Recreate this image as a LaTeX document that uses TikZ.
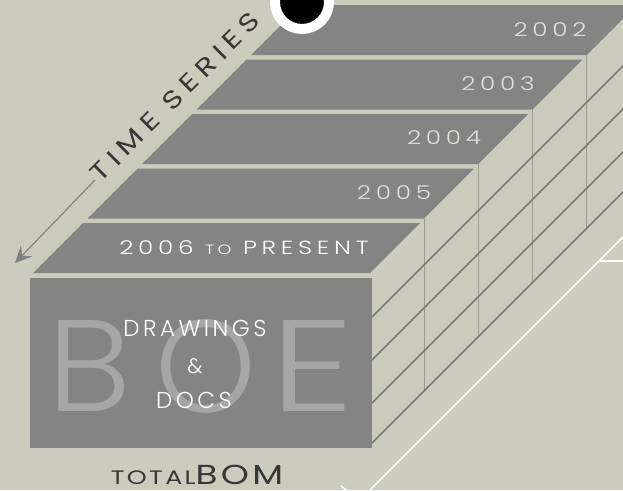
\documentclass[tikz,border=0pt]{standalone}
\usepackage{fontspec}
\usetikzlibrary{arrows.meta}
\IfFontExistsTF{Poppins Light}{\newcommand\coplname{Poppins Light}}{\newcommand\coplname{Poppins}}
\newfontfamily\fyear{\coplname}[FakeStretch=1.3,LetterSpace=25]
\newfontfamily\fdraw{\coplname}[LetterSpace=15]
\newfontfamily\fboe{\coplname}
\newfontfamily\ftime{Poppins}[FakeStretch=1.25,LetterSpace=25]
\newfontfamily\ftotal{Poppins}[FakeStretch=1.3,LetterSpace=12]
\definecolor{bg}{RGB}{204,204,189}
\definecolor{slab}{RGB}{131,132,131}
\definecolor{boe}{RGB}{166,167,165}
\definecolor{yeartxt}{RGB}{226,226,220}
\definecolor{vline}{RGB}{155,155,150}
\definecolor{dline}{RGB}{122,122,122}
\definecolor{darktxt}{RGB}{55,55,55}
\definecolor{arrcol}{RGB}{128,128,128}
\tikzset{
  slabfill/.style={fill=slab},
  yearlbl/.style={inner sep=0pt, anchor=base, text=yeartxt, font=\fyear\fontsize{19}{19}\selectfont},
  boelbl/.style={inner sep=0pt, anchor=base, text=boe, font=\fboe\fontsize{130}{130}\selectfont},
  thinv/.style={draw=vline, line width=0.8pt},
  shelf/.style={draw=dline, line width=1.5pt},
  whiteln/.style={draw=white, line width=1.5pt},
}
\begin{document}
\begin{tikzpicture}[x=1pt,y=-1pt]
\path[use as bounding box] (0,0) rectangle (623,490);
\clip (0,0) rectangle (623,490);
\fill[bg] (0,0) rectangle (623,490);
% slabs (top faces)
\foreach \i in {0,...,4}{
  \pgfmathsetmacro\yb{273-54.5*\i}
  \pgfmathsetmacro\xl{33+54.5*\i}
  \pgfmathsetmacro\xr{370+54.2*\i}
  \fill[slabfill] (\xl,\yb) -- (\xr,\yb) -- ({\xr+50},{\yb-50}) -- ({\xl+50},{\yb-50}) -- cycle;
}
% vertical edges on the side
\foreach \i in {1,...,4}{
  \pgfmathsetmacro\yb{273-54.5*\i}
  \pgfmathsetmacro\xr{370+54.2*\i}
  \draw[thinv] (\xr,\yb) -- (\xr,{815-\xr});
}
% diagonal shelf lines
\foreach \c in {689,732,775,815}{
  \draw[shelf] (372,{\c-372}) -- (660,{\c-660});
}
% front face
\fill[slabfill] (30,278) rectangle (372,448);
% BOE
\node[boelbl] (boeB) at (89,411) {\resizebox{84pt}{91pt}{B}};
\node[boelbl] (boeO) at (205.5,412) {\resizebox{101pt}{93pt}{O}};
\node[boelbl] (boeE) at (312,411) {\resizebox{84pt}{91pt}{E}};
\node[inner sep=0pt, anchor=base, text=white, font=\fdraw\fontsize{23}{23}\selectfont] (drw) at (195,336) {DRAWINGS};
\node[inner sep=0pt, anchor=base, text=white, font=\fdraw\fontsize{21}{21}\selectfont] (amp) at (195,373) {\&};
\node[inner sep=0pt, anchor=base, text=white, font=\fdraw\fontsize{23}{23}\selectfont] (docs) at (194,408) {DOCS};
% year labels
\node[yearlbl, text=white, font=\fyear\fontsize{19}{19}\selectfont] (y2006) at (244,254) {2006 {\fontsize{13.5}{13.5}\selectfont TO} PRESENT};
\node[yearlbl] (y2005) at (394,199) {2005};
\node[yearlbl] (y2004) at (444,144) {2004};
\node[yearlbl] (y2003) at (498,90) {2003};
\node[yearlbl] (y2002) at (550,36) {2002};
% time series
\node[inner sep=0pt, rotate=45, text=darktxt, font=\ftime\fontsize{25}{25}\selectfont] (ts) at (175,97) {TIME SERIES};
\coordinate (aS) at (95,180);
\coordinate (aE) at (15,263);
\draw[draw=arrcol, line width=1.2pt, -{Stealth[length=17pt,width=16pt,inset=7pt,fill=arrcol]}] (aS) -- (aE);
% totalBOM
\node[inner sep=0pt, anchor=base, text=darktxt, font=\ftotal\fontsize{27.5}{27.5}\selectfont] (tb) at (197,484) {{\fontsize{19.5}{19.5}\selectfont TOTAL}BOM};
% circle
\node[circle, draw=white, line width=10pt, fill=black, minimum size=54pt, inner sep=0pt] (dot) at (302,2) {};
% white lines
\coordinate (w1) at (370,490);
\coordinate (w2) at (623,237);
\coordinate (w3) at (599,261);
\coordinate (w4) at (630,261);
\draw[whiteln] (w1) -- (w2);
\draw[whiteln] (w3) -- (w4);
\coordinate (w5) at (341,486);
\coordinate (w6) at (350,493);
\draw[whiteln] (w5) -- (w6);
\end{tikzpicture}
\end{document}
